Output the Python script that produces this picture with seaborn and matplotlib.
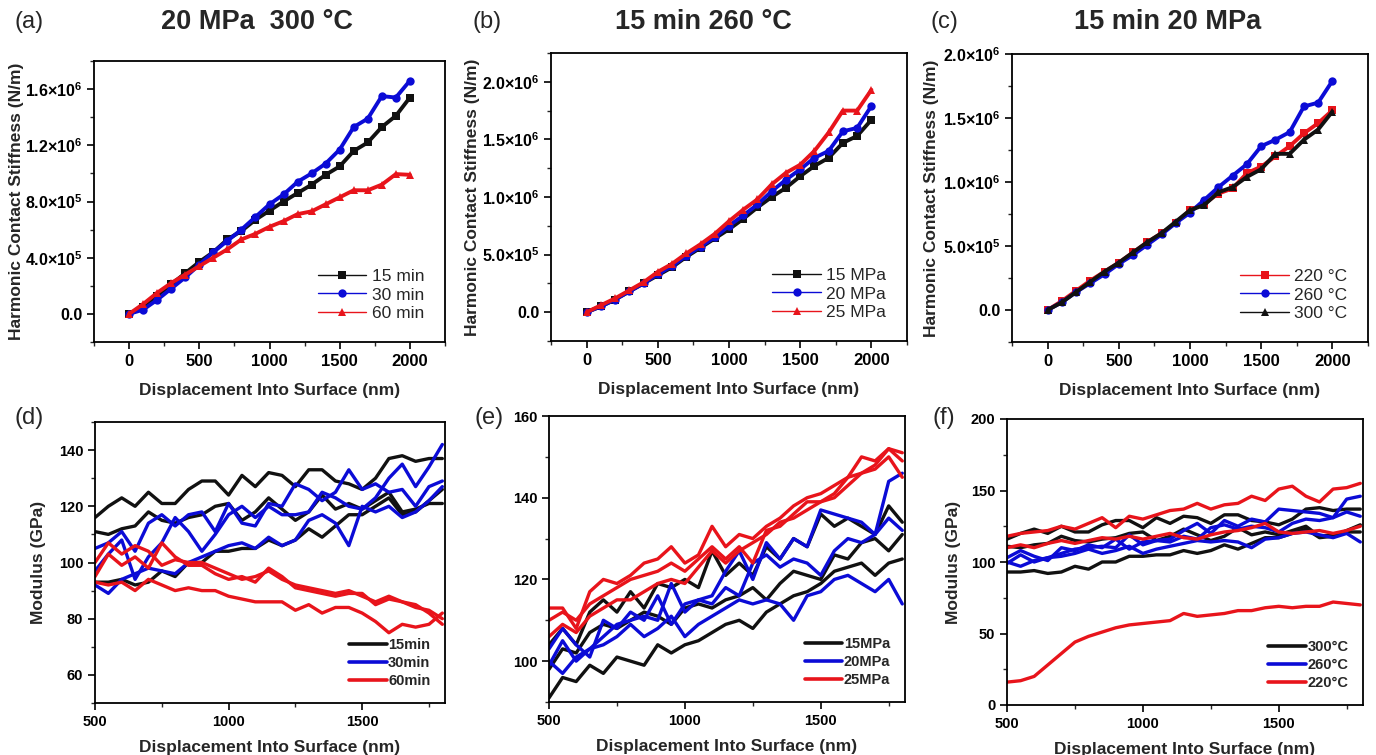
import matplotlib
matplotlib.use("Agg")
import matplotlib.pyplot as plt
from matplotlib.ticker import MultipleLocator, FuncFormatter
import numpy as np
import pandas as pd
import seaborn as sns

# ---------- data ----------
# top row: stiffness (x1e5 N/m) vs displacement (nm)
x_top = [0, 100, 200, 300, 400, 500, 600, 700, 800, 900, 1000,
         1100, 1200, 1300, 1400, 1500, 1600, 1700, 1800, 1900, 2000]

a_15min = [0, 0.5, 1.3, 2.1, 2.9, 3.7, 4.4, 5.3, 5.9, 6.7, 7.35, 8.0, 8.6, 9.2, 9.9, 10.5, 11.6, 12.2, 13.3, 14.1, 15.4]
a_30min = [0, 0.3, 1.0, 1.8, 2.6, 3.5, 4.4, 5.2, 6.0, 6.9, 7.8, 8.5, 9.4, 10.0, 10.7, 11.7, 13.3, 13.9, 15.5, 15.4, 16.6]
a_60min = [0, 0.7, 1.5, 2.2, 2.8, 3.4, 4.0, 4.6, 5.3, 5.7, 6.2, 6.6, 7.1, 7.3, 7.8, 8.3, 8.8, 8.8, 9.2, 9.95, 9.9]

b_15mpa = [0, 0.5, 1.1, 1.8, 2.5, 3.2, 3.9, 4.8, 5.6, 6.4, 7.2, 8.1, 9.1, 10.0, 10.8, 11.8, 12.7, 13.4, 14.7, 15.3, 16.7]
b_20mpa = [0, 0.5, 1.1, 1.8, 2.5, 3.3, 4.0, 4.9, 5.7, 6.5, 7.5, 8.4, 9.35, 10.5, 11.5, 12.4, 13.4, 14.0, 15.7, 16.0, 17.9]
b_25mpa = [0, 0.6, 1.2, 1.9, 2.6, 3.5, 4.2, 5.1, 5.9, 6.8, 7.9, 8.9, 9.8, 11.1, 12.1, 12.8, 14.0, 15.6, 17.5, 17.5, 19.3]

c_220c = [0, 0.7, 1.5, 2.3, 3.0, 3.7, 4.5, 5.3, 6.0, 6.8, 7.8, 8.3, 9.1, 9.5, 10.7, 11.2, 12.0, 12.8, 13.8, 14.6, 15.6]
c_260c = [0, 0.6, 1.4, 2.1, 2.8, 3.6, 4.3, 5.1, 5.9, 6.8, 7.6, 8.6, 9.6, 10.5, 11.4, 12.8, 13.3, 13.9, 15.9, 16.2, 17.9]
c_300c = [0, 0.6, 1.4, 2.2, 3.0, 3.7, 4.5, 5.3, 6.0, 6.9, 7.8, 8.2, 9.2, 9.6, 10.4, 11.0, 12.2, 12.2, 13.3, 14.1, 15.5]

# bottom row: modulus (GPa) vs displacement (nm), three indents per sample
x_mod = [500, 550, 600, 650, 700, 750, 800, 850, 900, 950, 1000, 1050, 1100, 1150,
         1200, 1250, 1300, 1350, 1400, 1450, 1500, 1550, 1600, 1650, 1700, 1750, 1800]

mod_15min = [
    [116, 120, 123, 120, 125, 121, 121, 126, 129, 129, 124, 131, 127, 132, 131, 127, 133, 133, 129, 128, 126, 130, 137, 138, 136, 137, 137],
    [111, 110, 112, 113, 118, 115, 114, 116, 117, 120, 121, 115, 118, 123, 119, 115, 118, 124, 119, 121, 119, 122, 125, 118, 119, 121, 121],
    [93, 93, 94, 92, 93, 97, 95, 100, 100, 104, 104, 105, 105, 108, 106, 108, 112, 109, 113, 117, 117, 120, 123, 117, 118, 122, 126],
]
mod_30min = [
    [105, 107, 111, 104, 114, 117, 113, 117, 118, 111, 121, 114, 113, 121, 120, 128, 126, 122, 125, 133, 126, 128, 125, 126, 120, 127, 129],
    [92, 89, 94, 96, 98, 97, 96, 100, 102, 104, 106, 107, 105, 109, 106, 108, 115, 117, 114, 106, 120, 118, 120, 116, 118, 122, 127],
    [97, 103, 108, 94, 102, 107, 116, 111, 104, 110, 117, 120, 116, 120, 117, 117, 118, 125, 123, 120, 119, 123, 130, 135, 127, 134, 142],
]
mod_60min = [
    [100, 107, 103, 106, 104, 99, 101, 100, 100, 98, 96, 94, 95, 97, 94, 92, 91, 90, 89, 90, 88, 86, 88, 86, 84, 83, 80],
    [95, 103, 99, 102, 98, 107, 102, 99, 99, 96, 94, 95, 93, 98, 95, 91, 90, 89, 88, 89, 89, 85, 87, 86, 85, 82, 78],
    [93, 92, 93, 90, 94, 92, 90, 91, 90, 90, 88, 87, 86, 86, 86, 83, 85, 82, 84, 84, 82, 79, 75, 78, 77, 78, 82],
]

mod_15mpa = [
    [104, 108, 104, 112, 115, 112, 117, 113, 119, 118, 120, 118, 127, 121, 124, 121, 128, 125, 130, 128, 136, 133, 135, 133, 131, 138, 134],
    [98, 103, 102, 107, 109, 108, 110, 112, 111, 109, 113, 114, 113, 115, 116, 118, 115, 119, 122, 121, 120, 126, 125, 129, 130, 127, 131],
    [91, 96, 95, 99, 97, 101, 100, 99, 104, 102, 104, 105, 107, 109, 110, 108, 112, 114, 116, 117, 119, 122, 123, 124, 121, 124, 125],
]
mod_20mpa = [
    [103, 108, 104, 101, 110, 108, 112, 110, 116, 109, 114, 115, 116, 122, 127, 120, 129, 125, 130, 128, 137, 136, 135, 134, 131, 144, 146],
    [99, 105, 100, 103, 106, 109, 110, 111, 110, 119, 112, 115, 114, 118, 116, 124, 126, 123, 125, 124, 121, 127, 130, 129, 131, 135, 132],
    [100, 97, 101, 103, 104, 106, 109, 106, 108, 111, 106, 109, 111, 113, 115, 114, 115, 114, 110, 116, 117, 120, 121, 119, 117, 120, 114],
]
mod_25mpa = [
    [113, 113, 108, 117, 120, 119, 121, 124, 125, 128, 124, 126, 133, 128, 131, 130, 133, 135, 138, 140, 141, 143, 145, 150, 149, 152, 151],
    [110, 112, 110, 114, 116, 118, 120, 121, 122, 124, 122, 125, 128, 125, 128, 124, 132, 133, 136, 139, 139, 141, 145, 146, 148, 152, 149],
    [106, 109, 107, 111, 113, 115, 115, 117, 119, 120, 119, 123, 127, 124, 127, 129, 131, 134, 135, 137, 139, 140, 143, 146, 147, 150, 145],
]

mod_220c = [
    [118, 120, 121, 122, 125, 123, 127, 131, 124, 132, 130, 133, 136, 137, 141, 137, 140, 141, 146, 143, 151, 153, 146, 142, 151, 152, 155],
    [110, 112, 110, 113, 115, 113, 115, 117, 116, 118, 116, 118, 120, 117, 116, 119, 121, 122, 124, 127, 121, 120, 121, 122, 120, 122, 125],
    [16, 17, 20, 28, 36, 44, 48, 51, 54, 56, 57, 58, 59, 64, 62, 63, 64, 66, 66, 68, 69, 68, 69, 69, 72, 71, 70],
]
# the 300 C and 260 C samples in (f) are the 15 min and 20 MPa samples of (d) and (e)
mod_300c = mod_15min
mod_260c = mod_20mpa

BLACK = "#111111"
BLUE = "#0b0bd6"
RED = "#e8141b"

# ---------- style ----------
sns.set_style("ticks")
plt.rcParams["font.family"] = ["Liberation Sans", "DejaVu Sans"]
plt.rcParams["font.weight"] = "bold"
plt.rcParams["axes.labelweight"] = "bold"
plt.rcParams["mathtext.fontset"] = "custom"
plt.rcParams["mathtext.bf"] = "Liberation Sans:bold"
plt.rcParams["mathtext.rm"] = "Liberation Sans:bold"
plt.rcParams["mathtext.default"] = "bf"
plt.rcParams["axes.linewidth"] = 1.3

W, H = 1376, 755
fig = plt.figure(figsize=(W / 100, H / 100), dpi=100)


def px_axes(l, r, t, b):
    return fig.add_axes([l / W, 1 - b / H, (r - l) / W, (b - t) / H])


def sci_fmt(v, pos):
    if abs(v) < 1:
        return "0.0"
    e = int(np.floor(np.log10(abs(v)) + 1e-9))
    m = v / 10 ** e
    return f"{m:.1f}×10$^{{{e}}}$"


def style_axes(ax, size):
    for s in ax.spines.values():
        s.set_visible(True)
        s.set_linewidth(1.3)
        s.set_color("black")
    ax.tick_params(which="major", direction="out", length=5, width=1.2,
                   labelsize=size, top=False, right=False, colors="black")
    ax.tick_params(which="minor", direction="out", length=3, width=1.0,
                   top=False, right=False)


def top_panel(ax, series, ylim, ystep, lab_x):
    for vals, color, marker, label in series:
        sns.lineplot(x=x_top, y=np.array(vals) * 1e5, color=color, marker=marker,
                     markersize=6, markeredgewidth=0, linewidth=2.8,
                     label=label, ax=ax, zorder=3)
    ax.set_xlim(-250, 2250)
    ax.set_ylim(*ylim)
    ax.xaxis.set_major_locator(MultipleLocator(500))
    ax.xaxis.set_minor_locator(MultipleLocator(250))
    ax.yaxis.set_major_locator(MultipleLocator(ystep))
    ax.yaxis.set_minor_locator(MultipleLocator(ystep / 2))
    ax.yaxis.set_major_formatter(FuncFormatter(sci_fmt))
    style_axes(ax, 11.5)
    ax.tick_params(axis="x", labelsize=12)
    ax.set_xlabel("Displacement Into Surface (nm)", fontsize=12.5, labelpad=10)
    ax.set_ylabel("Harmonic Contact Stiffness (N/m)", fontsize=12.5)
    ax.yaxis.set_label_coords(lab_x, 0.5)
    h, l = ax.get_legend_handles_labels()
    leg = ax.legend(h, l, loc="lower right", frameon=False,
                    handlelength=2.8, labelspacing=0.2, handletextpad=0.3,
                    borderaxespad=0.8, prop={"weight": "normal", "size": 12.5})
    for ln in leg.get_lines():
        ln.set_linewidth(1.0)


def bottom_panel(ax, groups, ylim, ystep, lab_x=None):
    rows = []
    for label, curves in groups:
        for k, curve in enumerate(curves):
            for xv, yv in zip(x_mod, curve):
                rows.append({"x": xv, "mod": yv, "grp": label, "rep": k})
    df = pd.DataFrame(rows)
    order = [g[0] for g in groups]
    pal = dict(zip(order, [BLACK, BLUE, RED]))
    sns.lineplot(data=df, x="x", y="mod", hue="grp", hue_order=order, units="rep",
                 estimator=None, palette=pal, linewidth=2.4, ax=ax)
    ax.set_xlim(500, 1810)
    ax.set_ylim(*ylim)
    ax.xaxis.set_major_locator(MultipleLocator(500))
    ax.xaxis.set_minor_locator(MultipleLocator(250))
    ax.yaxis.set_major_locator(MultipleLocator(ystep))
    ax.yaxis.set_minor_locator(MultipleLocator(ystep / 2))
    style_axes(ax, 10.5)
    ax.set_xlabel("Displacement Into Surface (nm)", fontsize=12.5, labelpad=8)
    if lab_x is not None:
        ax.set_ylabel("Modulus (GPa)", fontsize=12.5)
        ax.yaxis.set_label_coords(lab_x, 0.5)
    else:
        ax.set_ylabel("")
    h, l = ax.get_legend_handles_labels()
    leg = ax.legend(h, l, loc="lower right", frameon=False, fontsize=10.5,
                    handlelength=2.6, labelspacing=0.3, handletextpad=0.1,
                    borderaxespad=0.6)
    for ln in leg.get_lines():
        ln.set_linewidth(2.6)


# ---------- top row ----------
ax_a = px_axes(94, 445, 61, 342)
top_panel(ax_a, [(a_15min, BLACK, "s", "15 min"),
                 (a_30min, BLUE, "o", "30 min"),
                 (a_60min, RED, "^", "60 min")], (-2e5, 1.8e6), 4e5, -0.2)

ax_b = px_axes(551, 907, 53, 341)
top_panel(ax_b, [(b_15mpa, BLACK, "s", "15 MPa"),
                 (b_20mpa, BLUE, "o", "20 MPa"),
                 (b_25mpa, RED, "^", "25 MPa")], (-2.5e5, 2.25e6), 5e5, -0.2)

ax_c = px_axes(1012, 1368, 54, 342)
top_panel(ax_c, [(c_220c, RED, "s", "220 °C"),
                 (c_260c, BLUE, "o", "260 °C"),
                 (c_300c, BLACK, "^", "300 °C")], (-2.5e5, 2.0e6), 5e5, -0.205)

# ---------- bottom row ----------
ax_d = px_axes(95, 445, 422, 703)
bottom_panel(ax_d, [("15min", mod_15min), ("30min", mod_30min), ("60min", mod_60min)],
             (50, 150), 20, lab_x=-0.14)

ax_e = px_axes(549, 905, 416, 702)
bottom_panel(ax_e, [("15MPa", mod_15mpa), ("20MPa", mod_20mpa), ("25MPa", mod_25mpa)],
             (90, 160), 20)

ax_f = px_axes(1007, 1363, 419, 705)
bottom_panel(ax_f, [("300°C", mod_300c), ("260°C", mod_260c), ("220°C", mod_220c)],
             (0, 200), 50, lab_x=-0.129)

# ---------- titles and panel letters ----------
for xc, txt in [(257, "20 MPa  300 °C"), (703, "15 min 260 °C"), (1168, "15 min 20 MPa")]:
    fig.text(xc / W, 1 - 22 / H, txt, ha="center", va="center", fontsize=19.5, fontweight="bold")

for xl, yc, txt in [(15, 22, "(a)"), (473, 22, "(b)"), (931, 22, "(c)"),
                    (15, 418, "(d)"), (475, 418, "(e)"), (933, 418, "(f)")]:
    fig.text(xl / W, 1 - yc / H, txt, ha="left", va="center", fontsize=17, fontweight="normal")

fig.savefig("out.png", dpi=100)
